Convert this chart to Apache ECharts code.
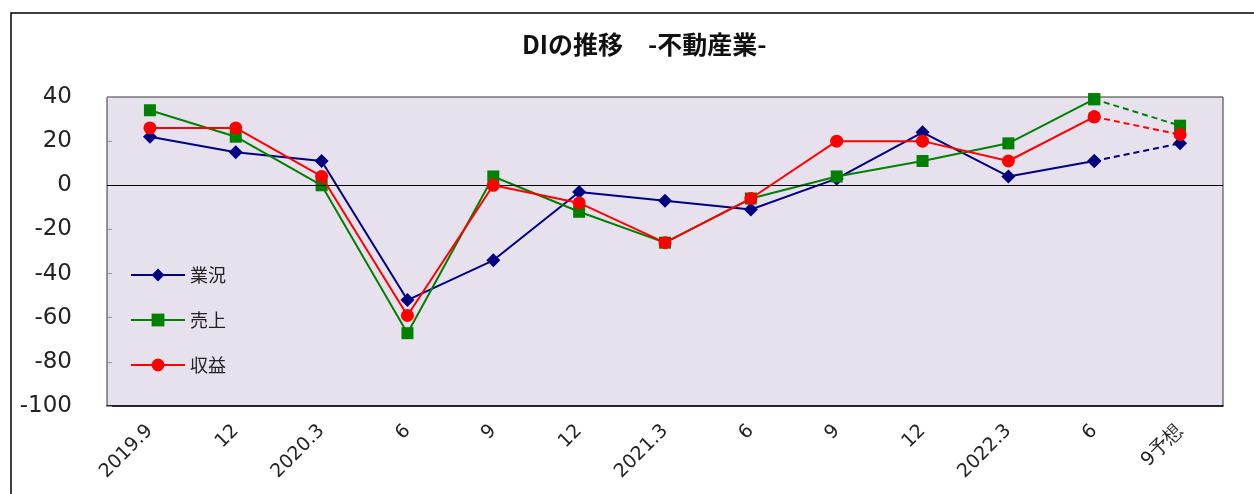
<!DOCTYPE html>
<html>
<head>
<meta charset="utf-8">
<script src="https://cdn.jsdelivr.net/npm/echarts@6/dist/echarts.min.js"></script>
<style>
  html, body { margin: 0; padding: 0; background: #fff; }
  #chart { width: 1254px; height: 494px; }
</style>
</head>
<body>
<div id="chart"></div>
<script>
const categories = ['2019.9', '12', '2020.3', '6', '9', '12', '2021.3', '6', '9', '12', '2022.3', '6', '9予想'];
const gyokyo = [22, 15, 11, -52, -34, -3, -7, -11, 3, 24, 4, 11, 19];   // 業況
const uriage = [34, 22, 0, -67, 4, -12, -26, -6, 4, 11, 19, 39, 27];    // 売上
const shueki = [26, 26, 4, -59, 0, -8, -26, -6, 20, 20, 11, 31, 23];    // 収益
const yTicks = { min: -100, max: 40, interval: 20 };

// last point is a forecast: solid up to index 11, dashed from 11 to 12
const lastIdx = categories.length - 1;
const solidPart = arr => arr.map((v, i) => (i < lastIdx ? v : '-'));
const dashPart = arr => arr.map((v, i) => (i >= lastIdx - 1 ? v : '-'));

const chart = echarts.init(document.getElementById('chart'));

const seriesDefs = [
  { name: '業況', data: gyokyo, color: '#000080', symbol: 'diamond', size: 14 },
  { name: '売上', data: uriage, color: '#008000', symbol: 'rect', size: 12 },
  { name: '収益', data: shueki, color: '#ff0000', symbol: 'circle', size: 13 }
];

const series = [];
seriesDefs.forEach((s, k) => {
  series.push({
    name: s.name,
    type: 'line',
    data: solidPart(s.data),
    symbol: s.symbol,
    symbolSize: s.size,
    itemStyle: { color: s.color },
    lineStyle: { color: s.color, width: 2 },
    z: 3 + k,
    animation: false,
    markLine: k === 0 ? {
      silent: true,
      symbol: 'none',
      label: { show: false },
      lineStyle: { color: '#000', width: 1, type: 'solid' },
      data: [{ yAxis: 0 }]
    } : undefined
  });
  series.push({
    name: s.name + '予想',
    type: 'line',
    data: dashPart(s.data),
    symbol: s.symbol,
    symbolSize: s.size,
    itemStyle: { color: s.color },
    lineStyle: { color: s.color, width: 2, type: [6, 4] },
    z: 3 + k,
    animation: false
  });
});

const option = {
  backgroundColor: '#fff',
  graphic: [{
    type: 'rect',
    shape: { x: 11, y: 13, width: 1300, height: 600 },
    style: { fill: 'none', stroke: '#000', lineWidth: 1.5 },
    silent: true,
    z: -10
  }],
  title: {
    text: 'DIの推移　-不動産業-',
    left: 517,
    top: 27,
    textStyle: { fontFamily: 'Noto Sans CJK JP', fontWeight: 'bold', fontSize: 25, color: '#111' }
  },
  legend: {
    data: ['業況', '売上', '収益'],
    orient: 'vertical',
    left: 125,
    top: 261,
    itemWidth: 54,
    itemHeight: 16,
    itemGap: 27,
    lineStyle: { width: 2 },
    textStyle: { fontFamily: 'Noto Sans CJK JP', fontSize: 18, color: '#222' }
  },
  grid: {
    left: 107,
    top: 97,
    right: 31,
    bottom: 88,
    show: true,
    backgroundColor: '#e7e1ee',
    borderColor: '#333',
    borderWidth: 1
  },
  xAxis: {
    type: 'category',
    data: categories,
    boundaryGap: true,
    axisLine: { onZero: false, lineStyle: { color: '#000', width: 1.5 } },
    axisTick: { show: false },
    axisLabel: {
      rotate: 45,
      margin: 22,
      interval: 0,
      fontFamily: 'DejaVu Sans',
      fontSize: 19,
      color: '#222'
    }
  },
  yAxis: {
    type: 'value',
    min: yTicks.min,
    max: yTicks.max,
    interval: yTicks.interval,
    axisLine: { show: true, lineStyle: { color: '#888', width: 1 } },
    axisTick: { show: true, inside: true, length: 5, lineStyle: { color: '#999' } },
    splitLine: { show: false },
    axisLabel: {
      margin: 35,
      fontFamily: 'DejaVu Sans',
      fontSize: 23,
      color: '#222'
    }
  },
  series: series
};

chart.setOption(option);
</script>
</body>
</html>
